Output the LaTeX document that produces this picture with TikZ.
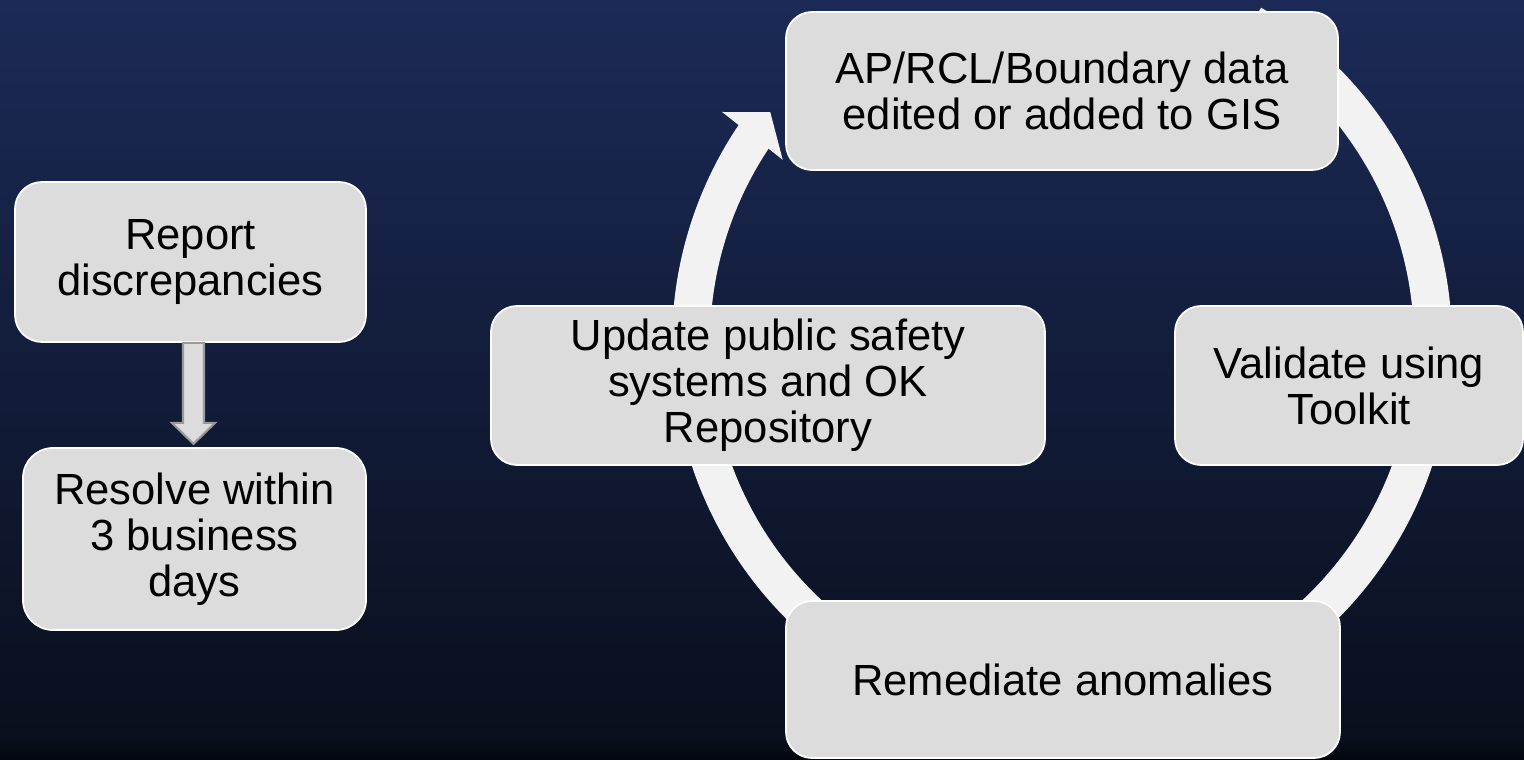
\documentclass[tikz,border=0pt]{standalone}
\usepackage{fontspec}
\setmainfont{Liberation Sans}
\usetikzlibrary{calc}

\definecolor{bgtop}{HTML}{1B2A57}
\definecolor{bgmid}{HTML}{141F42}
\definecolor{bgbot}{HTML}{0A0F1D}
\definecolor{bgfloor}{HTML}{03080F}
\definecolor{boxfill}{HTML}{DCDCDC}
\definecolor{ringfill}{HTML}{F2F2F2}
\definecolor{arrowline}{HTML}{9A9A9A}

\begin{document}
\begin{tikzpicture}[
  stepbox/.style={draw=white, line width=0.5pt, fill=boxfill,
    rounded corners=0.26cm, inner sep=0pt, align=center, text=black,
    font=\fontsize{12.4}{13.1}\selectfont},
  ringpart/.style={fill=ringfill},
  blockarrow/.style={draw=arrowline, fill=boxfill, line width=0.6pt, line join=miter},
]
\useasboundingbox (0,0) rectangle (15.24,7.59);

% backdrop
\shade[top color=bgtop, middle color=bgmid, bottom color=bgbot] (0,0.2) rectangle (15.24,7.59);
\shade[top color=bgbot, bottom color=bgfloor] (0,0) rectangle (15.24,0.2);

% circular arrow behind the cycle
\coordinate (hub) at (10.62,4.16);
\fill[ringpart] ($(hub)+(59.3:3.90)$)
  arc[start angle=59.3, end angle=-214.3, radius=3.90]
  -- ($(hub)+(-214.3:3.52)$)
  arc[start angle=-214.3, end angle=59.3, radius=3.52] -- cycle;
\fill[ringpart] ($(hub)+(145.8:4.11)$) -- ($(hub)+(141.65:3.72)$)
  -- ($(hub)+(146.74:3.34)$) -- cycle;

% cycle steps
\node[stepbox, minimum width=5.52cm, minimum height=1.58cm] (edit) at (10.62,6.68)
  {AP/RCL/Boundary data\\edited or added to GIS};
\node[stepbox, minimum width=3.48cm, minimum height=1.59cm] (validate) at (13.49,3.735)
  {Validate using\\Toolkit};
\node[stepbox, minimum width=5.54cm, minimum height=1.57cm] (remediate) at (10.63,0.795)
  {Remediate anomalies};
\node[stepbox, minimum width=5.54cm, minimum height=1.59cm] (update) at (7.68,3.735)
  {Update public safety\\systems and OK\\Repository};

% discrepancy steps
\node[stepbox, minimum width=3.51cm, minimum height=1.60cm, rounded corners=0.27cm] (report) at (1.905,4.97)
  {Report\\discrepancies};
\node[stepbox, minimum width=3.43cm, minimum height=1.82cm, rounded corners=0.3cm] (resolve) at (1.945,2.20)
  {Resolve within\\3 business\\days};

% block arrow from report to resolve
\draw[blockarrow] ($(report.south)+(-0.075,0)$) -- ++(0,-0.80) -- ++(-0.11,0)
  -- ($(report.south)+(0.03,-1.01)$)
  -- ($(report.south)+(0.245,-0.80)$) -- ++(-0.11,0)
  -- ($(report.south)+(0.135,0)$) -- cycle;
\end{tikzpicture}
\end{document}
